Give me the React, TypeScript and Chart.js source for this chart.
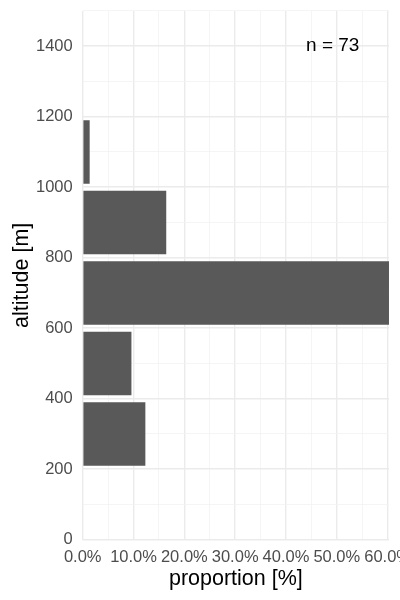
import React, { useEffect, useRef } from 'react'
import { Chart, registerables } from 'chart.js'

Chart.register(...registerables)

// altitude bins (bin centre, m) and observation counts per bin
const binCentres = [300, 500, 700, 900, 1100]
const counts = [9, 7, 44, 12, 1]
const total = counts.reduce((a, b) => a + b, 0)
const proportions = counts.map((c) => (c / total) * 100)

const xTicks = [0, 5, 10, 15, 20, 25, 30, 35, 40, 45, 50, 55, 60]
const nLabel = `n = ${total}`
const nLabelPos = { x: 49.2, y: 1400 }

const FONT = "'Liberation Sans', Arial, sans-serif"
const TICK_COLOR = '#4d4d4d'
const GRID_MAJOR = '#ebebeb'
const GRID_MINOR = '#f3f3f3'

const nLabelPlugin = {
  id: 'nLabel',
  afterDatasetsDraw(chart: any) {
    const { ctx, scales } = chart
    const px = scales.x.getPixelForValue(nLabelPos.x)
    const py = scales.y.getPixelForValue(nLabelPos.y)
    ctx.save()
    ctx.font = `19px ${FONT}`
    ctx.fillStyle = '#000000'
    ctx.textAlign = 'center'
    ctx.textBaseline = 'middle'
    ctx.fillText(nLabel, px, py)
    ctx.restore()
  },
}

const AltitudeChart = () => {
  const canvasRef = useRef<HTMLCanvasElement>(null)

  useEffect(() => {
    document.body.style.margin = '0'
    document.body.style.overflow = 'hidden'
    if (!canvasRef.current) return
    const ctx = canvasRef.current.getContext('2d')
    if (!ctx) return

    const chart = new Chart(ctx, {
      type: 'bar',
      data: {
        datasets: [
          {
            data: binCentres.map((c, i) => ({ x: proportions[i], y: c })),
            backgroundColor: '#595959',
            borderWidth: 0,
            // sample size is taken from the 100 m tick spacing, so 1.8 gives 0.9 of a 200 m bin
            barPercentage: 1.8,
            categoryPercentage: 1,
          },
        ],
      },
      options: {
        indexAxis: 'y',
        animation: false,
        responsive: false,
        devicePixelRatio: 1,
        layout: { padding: { left: 11, top: 0, bottom: 10, right: 0 } },
        plugins: {
          legend: { display: false },
          tooltip: { enabled: false },
        },
        scales: {
          x: {
            type: 'linear',
            min: 0,
            max: 60.27,
            afterBuildTicks: (scale: any) => {
              scale.ticks = xTicks.map((v) => ({ value: v }))
            },
            border: { display: false },
            grid: {
              color: (c: any) => (c.tick && c.tick.value % 10 === 0 ? GRID_MAJOR : GRID_MINOR),
              lineWidth: (c: any) => (c.tick && c.tick.value % 10 === 0 ? 1.4 : 0.8),
              drawTicks: false,
            },
            ticks: {
              autoSkip: false,
              maxRotation: 0,
              padding: 8,
              color: TICK_COLOR,
              font: { family: FONT, size: 16.5 },
              callback: (v: any) => (Number(v) % 10 === 0 ? Number(v).toFixed(1) + '%' : ''),
            },
            title: {
              display: true,
              text: 'proportion [%]',
              color: '#000000',
              font: { family: FONT, size: 21.5, lineHeight: 1 },
              padding: { top: -7, bottom: 0 },
            },
          },
          y: {
            type: 'linear',
            min: 0,
            max: 1500,
            offset: false,
            border: { display: false },
            grid: {
              offset: false,
              color: (c: any) => (c.tick && c.tick.value % 200 === 0 ? GRID_MAJOR : GRID_MINOR),
              lineWidth: (c: any) => (c.tick && c.tick.value % 200 === 0 ? 1.4 : 0.8),
              drawTicks: false,
            },
            ticks: {
              stepSize: 100,
              autoSkip: false,
              padding: 10,
              color: TICK_COLOR,
              font: { family: FONT, size: 16.5 },
              callback: (v: any) => (Number(v) % 200 === 0 ? String(v) : ''),
            },
            title: {
              display: true,
              text: 'altitude [m]',
              color: '#000000',
              font: { family: FONT, size: 21.5, lineHeight: 1 },
              padding: { top: 0, bottom: -6.5 },
            },
          },
        },
      },
      plugins: [nLabelPlugin],
    } as any)

    return () => chart.destroy()
  }, [])

  // canvas is a little larger than the window so the plot can run to the edges like the original
  return (
    <div style={{ position: 'absolute', left: 0, top: -9, width: 419, height: 609 }}>
      <canvas ref={canvasRef} width={419} height={609} />
    </div>
  )
}

export default function App() {
  return <AltitudeChart />
}
